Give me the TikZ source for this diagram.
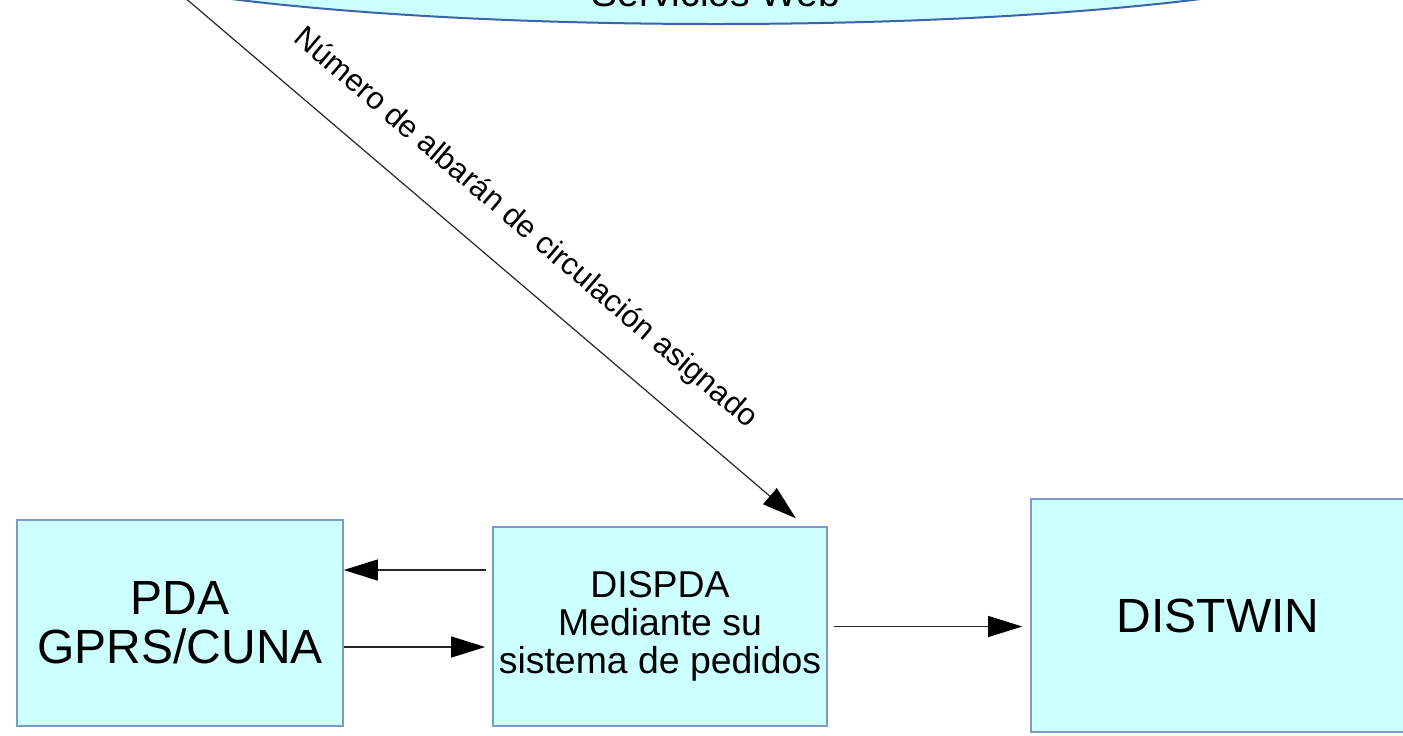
\documentclass[tikz,border=0pt]{standalone}
\usepackage{fontspec}
\setmainfont{Liberation Sans}
\usetikzlibrary{shapes.geometric,arrows.meta}
\definecolor{boxfill}{RGB}{204,255,255}
\definecolor{boxborder}{RGB}{125,155,200}
\definecolor{wsborder}{RGB}{60,100,170}
\begin{document}
\begin{tikzpicture}[x=0.5pt,y=-0.5pt,
  box/.style={draw=boxborder, fill=boxfill, line width=0.8pt, inner sep=0pt, align=center},
  arr/.style={draw=black!85, line width=0.6pt, -{Triangle[length=17pt,width=10.5pt,color=black]}},
  bigtext/.style={font=\fontsize{24}{24.5}\selectfont},
  midtext/.style={font=\fontsize{18.7}{19}\selectfont},
  wstextstyle/.style={font=\fontsize{19.5}{22}\selectfont, inner sep=0pt},
  lbltext/.style={font=\fontsize{15.5}{17}\selectfont}]
\clip (0,0) rectangle (1403,735);
% web services ellipse (cut off at the top)
\node[ellipse, draw=wsborder, fill=boxfill, line width=1pt, minimum width=681pt, minimum height=84pt, inner sep=0pt] (ws) at (716,-60) {};
\node[wstextstyle, anchor=base] (wstext) at ([yshift=9.5pt]ws.south) {Servicios Web};
% boxes
\node[box, bigtext, minimum width=163pt, minimum height=103pt] (pda) at (180,623) {PDA\\GPRS/CUNA};
\node[box, midtext, minimum width=167pt, minimum height=99.5pt] (dispda) at (660,626.5) {DISPDA\\Mediante su\\sistema de pedidos};
\node[box, bigtext, minimum width=187pt, minimum height=116.5pt] (distwin) at (1218,615.5) {DISTWIN};
% connectors
\coordinate (src) at (184,-3);
\coordinate (tip) at ([xshift=-16pt,yshift=4pt]dispda.north east);
\draw[arr] (src) -- (tip) node[sloped, pos=0.51, above=11.5pt, lbltext] (lbl) {Número de albarán de circulación asignado};
\coordinate (r1) at ([yshift=26.5pt]pda.east);
\coordinate (r2) at ([yshift=-12pt]pda.east);
\draw[arr, shorten <=3pt] (dispda.west |- r1) -- (r1);
\draw[arr, shorten >=3.5pt] (r2) -- (dispda.west |- r2);
\draw[arr, shorten <=3pt, shorten >=4pt] (dispda.east) -- (dispda.east -| distwin.west);
\end{tikzpicture}
\end{document}
